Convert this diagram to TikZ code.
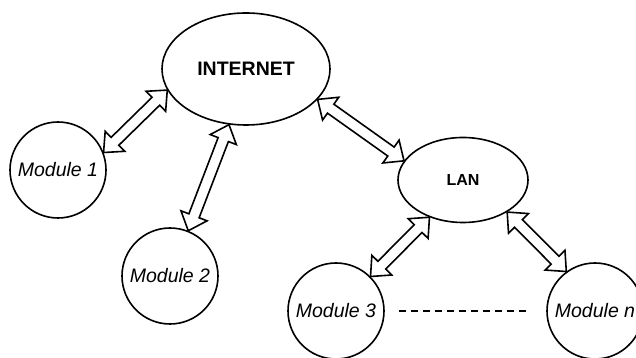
\documentclass[tikz,border=0pt]{standalone}
\usepackage{fontspec}
\setmainfont{Liberation Sans}
\usetikzlibrary{shapes.geometric,calc}
\tikzset{
  netnode/.style={ellipse, draw, line width=1.6pt, inner sep=0pt, font=\fontsize{19.5}{21}\selectfont\bfseries},
  modnode/.style={circle, draw, line width=1.6pt, minimum size=96pt, inner sep=0pt, font=\fontsize{19.5}{21}\selectfont\itshape},
  hollow/.style={draw, line width=1.6pt, fill=white, line join=miter},
  dashlink/.style={dash pattern=on 7pt off 5pt, line width=1.1pt}
}
\newcommand\dblarrow[2]{%
  \draw[hollow] (#1)
    -- ($(#1)!16pt!(#2)!14pt!90:(#2)$)
    -- ($(#1)!16pt!(#2)!5.5pt!90:(#2)$)
    -- ($(#2)!16pt!(#1)!5.5pt!-90:(#1)$)
    -- ($(#2)!16pt!(#1)!14pt!-90:(#1)$)
    -- (#2)
    -- ($(#2)!16pt!(#1)!14pt!90:(#1)$)
    -- ($(#2)!16pt!(#1)!5.5pt!90:(#1)$)
    -- ($(#1)!16pt!(#2)!5.5pt!-90:(#2)$)
    -- ($(#1)!16pt!(#2)!14pt!-90:(#2)$)
    -- cycle;}
\begin{document}
\begin{tikzpicture}[x=1pt,y=1pt]
  \fill[white] (0,0) rectangle (636,358);
  \useasboundingbox (0,0) rectangle (636,358);
  \node[netnode, minimum width=168pt, minimum height=112pt] (inet) at (246,289) {INTERNET};
  \node[netnode, minimum width=130pt, minimum height=85pt, font=\fontsize{16}{18}\selectfont\bfseries] (lan) at (463,178) {LAN};
  \node[modnode] (m1) at (58,188) {Module 1};
  \node[modnode] (m2) at (170,82) {Module 2};
  \node[modnode] (m3) at (336,47) {Module 3};
  \node[modnode] (mn) at (595,47) {Module n};
  \dblarrow{inet.195}{m1.21}
  \dblarrow{inet.253}{m2.68}
  \dblarrow{inet.337}{lan.162}
  \dblarrow{lan.228}{m3.45}
  \dblarrow{lan.324}{mn.126}
  \draw[dashlink] ($(m3.east)+(14pt,0)$) -- ($(mn.west)+(-17pt,0)$);
\end{tikzpicture}
\end{document}
